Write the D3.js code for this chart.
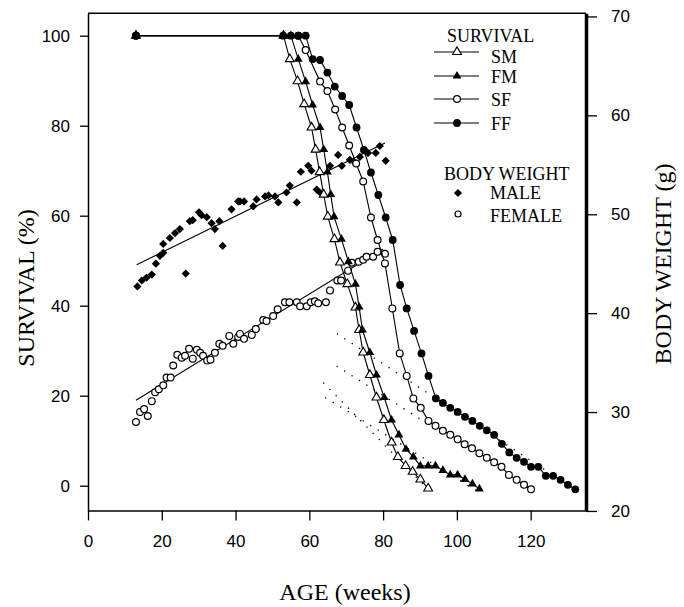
<!DOCTYPE html>
<html><head><meta charset="utf-8">
<script src="https://cdn.jsdelivr.net/npm/d3@7"></script>
<style>body{margin:0;background:#fff}svg{display:block}</style>
</head><body><svg id="c" width="684" height="607"></svg>
<script>
// ---------- data ----------
const xTicks = [0, 20, 40, 60, 80, 100, 120];
const survTicks = [0, 20, 40, 60, 80, 100];
const bwTicks = [20, 30, 40, 50, 60, 70];

const smWeeks = [13, 53, 54.7, 56.8, 58.6, 60.6, 61.7, 62.8, 63.9, 65, 66.8, 68.3, 70.3, 72.5, 73.5, 74.6, 76.4, 78.2, 80.2, 82.3, 84, 86.1, 88, 90.1, 92.2];
const smSurv  = [100, 100, 94.8, 89.9, 84.8, 79.6, 74.7, 69.7, 64.7, 59.8, 54.8, 49.6, 44.8, 39.6, 34.6, 29.6, 24.6, 19.6, 14.6, 9.6, 6.4, 4.4, 3.1, 1.4, -0.6];

const fmWeeks = [13, 55, 57, 59, 60.9, 62.9, 63.9, 64.9, 65.8, 66.7, 68.7, 70.6, 72.5, 73.5, 74.4, 76.4, 78.2, 80.3, 82.3, 84.3, 86.2, 88.2, 90.1, 92.2, 94.2, 96.2, 98.2, 100.2, 102.2, 104.2, 106.1];
const fmSurv  = [100, 100, 94.8, 89.8, 84.6, 79.6, 74.7, 69.7, 64.7, 59.8, 54.8, 49.8, 44.8, 39.7, 34.6, 29.6, 24.6, 19.6, 14.6, 11.3, 8.1, 6.4, 4.4, 4.4, 4.4, 3.4, 2.4, 2.4, 1.4, 0.4, -0.7];

const sfWeeks = [13, 57, 59, 62.9, 64.9, 67, 68.9, 70.8, 72.7, 74.6, 76.7, 78.5, 80.5, 82.5, 84.5, 86.4, 88.2, 90.2, 92.3, 94.2, 96.2, 98.2, 100.2, 102.1, 104.1, 106.1, 108.1, 110.1, 112.1, 114.1, 116.2, 118.2, 120.1];
const sfSurv  = [100, 100, 96.8, 89.8, 87.7, 83.6, 79.6, 75.6, 71.6, 67.6, 59.6, 54.6, 49.4, 39.4, 29.4, 24.4, 19.4, 17.3, 14.4, 13.3, 12.2, 11.3, 10.3, 9.2, 8.3, 7.2, 6.2, 5.2, 4.2, 2.4, 1.3, 0.2, -0.8];

const ffWeeks = [13, 52.9, 55, 57, 59, 60.9, 62.9, 64.9, 66.9, 68.9, 70.8, 72.8, 74.8, 76.7, 78.7, 80.7, 82.6, 84.6, 86.4, 88.4, 90.4, 92.3, 94.3, 96.2, 98.2, 100.2, 102.2, 104.2, 106.2, 108.1, 110.1, 112.2, 114.2, 116.2, 118.2, 120.1, 122.1, 124.1, 126.1, 128.1, 130.1, 132.1];
const ffSurv  = [100, 100, 100, 100, 100, 94.8, 94.6, 91.8, 88.7, 86.6, 84.6, 79.6, 74.6, 69.6, 64.6, 59.6, 54.6, 44.6, 39.4, 34.4, 29.4, 24.4, 19.4, 18.4, 17.3, 16.4, 15.3, 14.4, 13.3, 12.3, 11.3, 9.3, 7.4, 6.2, 5.3, 4.2, 4.2, 2.2, 2.2, 1.3, 0.2, -0.8];

// dotted fitted lines of the survival tails
const smFitWeeks = [63.8, 92.2]; const smFitSurv = [22.9, -0.8];
const fmFitWeeks = [64.3, 106.1]; const fmFitSurv = [19.6, -1.5];
const sfFitWeeks = [67.4, 120.1]; const sfFitSurv = [26.6, -0.8];
const ffFitWeeks = [67.5, 132.1]; const ffFitSurv = [33.8, -0.9];

// body weight (g)
const maleWeeks  = [13.4, 14.6, 15.9, 17.3, 18.4, 19.5, 20.4, 20.4, 22.2, 23.6, 24.9, 26.5, 27.6, 28.4, 30.1, 30.8, 32.2, 33.5, 34.4, 35.6, 36.5, 38.9, 40.7, 41.2, 42.3, 44.8, 45.7, 48, 48.9, 50.7, 51.6, 53.8, 54.7, 56.6, 57.7, 59.7, 60.6, 62, 62.9, 65.6, 67.8, 68.8, 71, 72.4, 73.7, 75.1, 75.9, 78, 79.1, 80.7];
const maleWeight = [42.7, 43.3, 43.6, 43.9, 45.0, 45.8, 46.1, 47.0, 47.6, 48.1, 48.5, 44.0, 49.3, 49.4, 50.2, 49.9, 49.7, 49.1, 48.5, 49.3, 46.8, 50.5, 51.3, 51.3, 51.3, 50.8, 51.5, 51.8, 51.9, 51.8, 51.2, 52.2, 52.9, 51.2, 54.3, 54.9, 54.4, 52.5, 52.2, 54.9, 56.0, 54.9, 55.5, 55.2, 55.8, 56.4, 56.2, 56.2, 56.9, 55.4];
const femaleWeeks  = [13, 14.1, 15.2, 16.2, 17.3, 18.2, 19.2, 20.4, 21.3, 22.4, 23.1, 24.2, 25.4, 26.3, 27.4, 28.4, 29.5, 30.4, 31.2, 32.3, 33.2, 34.4, 35.6, 36.5, 38.3, 39.4, 40.7, 41.2, 42.3, 44.4, 45.5, 47.5, 48.4, 50.2, 51.4, 53.4, 54.6, 56.6, 57.5, 59.3, 60.4, 61.5, 62.4, 64.5, 65.6, 67.6, 68.6, 70.5, 71.5, 73.4, 74.6, 75.5, 77.3, 78.5, 80.5];
const femaleWeight = [29.0, 30.0, 30.3, 29.6, 31.1, 32.0, 32.3, 32.7, 33.5, 33.5, 34.7, 35.8, 35.5, 35.7, 36.4, 35.4, 36.3, 36.0, 35.7, 35.2, 35.3, 36.0, 36.9, 36.7, 37.7, 36.9, 37.6, 37.9, 37.4, 37.8, 38.4, 39.3, 39.2, 39.7, 40.4, 41.1, 41.1, 41.1, 40.7, 40.7, 41.1, 41.2, 41.0, 41.1, 42.3, 43.3, 43.3, 44.3, 45.1, 45.2, 45.4, 45.7, 45.7, 46.2, 46.0];
const maleFitWeeks = [13.2, 80.5]; const maleFitWeight = [44.9, 57.2];
const femaleFitWeeks = [13, 80]; const femaleFitWeight = [31.2, 46.5];

const survNames = ["SM", "FM", "SF", "FF"];
const bwNames = ["MALE", "FEMALE"];

// ---------- drawing ----------
const svg = d3.select("#c");
const SANS = "'Liberation Sans', Arial, sans-serif";
const SERIF = "'Liberation Serif', 'Times New Roman', serif";

const x = d3.scaleLinear().domain([0, 135]).range([88, 586]);
const yL = d3.scaleLinear().domain([-5.5, 105]).range([510.45, 13.2]);
const yR = d3.scaleLinear().domain([20.05, 70.33]).range([510.45, 13.2]);

// frame
const fTop = yL.range()[1], fBot = yL.range()[0], fLeft = x.range()[0], fRight = x.range()[1];
svg.append("line").attr("x1", fLeft).attr("x2", fRight).attr("y1", fTop).attr("y2", fTop).attr("stroke", "#000").attr("stroke-width", 1.5);

// axes
const axB = svg.append("g").attr("transform", `translate(0,${fBot})`)
  .call(d3.axisBottom(x).tickValues(xTicks).tickSize(10).tickPadding(14).tickSizeOuter(0));
const axL = svg.append("g").attr("transform", `translate(${fLeft},0)`)
  .call(d3.axisLeft(yL).tickValues(survTicks).tickSize(8).tickPadding(10).tickSizeOuter(0));
const axR = svg.append("g").attr("transform", `translate(${fRight},0)`)
  .call(d3.axisRight(yR).tickValues(bwTicks).tickSize(11).tickPadding(14).tickSizeOuter(0));
[axB, axL, axR].forEach(a => {
  a.selectAll("text").attr("font-family", SANS).attr("font-size", 17).attr("fill", "#000");
  a.selectAll("line").attr("stroke", "#000").attr("stroke-width", 1.3);
  a.select(".domain").attr("stroke", "#000").attr("stroke-width", 1.5);
});
axR.select(".domain").attr("stroke-width", 3.5);

// axis titles
svg.append("text").attr("x", 345).attr("y", 600).attr("text-anchor", "middle")
  .attr("font-family", SERIF).attr("font-size", 24).text("AGE (weeks)");
svg.append("text").attr("transform", "translate(34,288) rotate(-90)").attr("text-anchor", "middle")
  .attr("font-family", SERIF).attr("font-size", 24).text("SURVIVAL (%)");
svg.append("text").attr("transform", "translate(671,264) rotate(-90)").attr("text-anchor", "middle")
  .attr("font-family", SERIF).attr("font-size", 24).text("BODY WEIGHT (g)");

const zip = (a, b) => a.map((v, i) => [v, b[i]]);

// dotted fits
const lineL = d3.line().x(d => x(d[0])).y(d => yL(d[1]));
const lineR = d3.line().x(d => x(d[0])).y(d => yR(d[1]));
[[smFitWeeks, smFitSurv], [fmFitWeeks, fmFitSurv], [sfFitWeeks, sfFitSurv], [ffFitWeeks, ffFitSurv]].forEach(([w, s]) => {
  svg.append("path").attr("d", lineL(zip(w, s))).attr("fill", "none").attr("stroke", "#000")
    .attr("stroke-width", 1.3).attr("stroke-dasharray", "1.3,7.5");
});

// body weight fits
svg.append("path").attr("d", lineR(zip(maleFitWeeks, maleFitWeight))).attr("fill", "none").attr("stroke", "#000").attr("stroke-width", 1.1);
svg.append("path").attr("d", lineR(zip(femaleFitWeeks, femaleFitWeight))).attr("fill", "none").attr("stroke", "#000").attr("stroke-width", 1.1);

// markers
const diamond = (g, cx, cy) => g.append("rect").attr("x", -2.9).attr("y", -2.9).attr("width", 5.8).attr("height", 5.8)
  .attr("transform", `translate(${cx},${cy}) rotate(45)`).attr("fill", "#000");
const openCircle = (g, cx, cy, r) => g.append("circle").attr("cx", cx).attr("cy", cy).attr("r", r || 3.4)
  .attr("fill", "#fff").attr("stroke", "#000").attr("stroke-width", 1.2);
const fillCircle = (g, cx, cy, r) => g.append("circle").attr("cx", cx).attr("cy", cy).attr("r", r || 3.9).attr("fill", "#000");
const tri = d3.symbol().type(d3.symbolTriangle).size(34);
const openTri = (g, cx, cy) => g.append("path").attr("d", tri()).attr("transform", `translate(${cx},${cy})`)
  .attr("fill", "#fff").attr("stroke", "#000").attr("stroke-width", 1.1);
const fillTri = (g, cx, cy) => g.append("path").attr("d", tri()).attr("transform", `translate(${cx},${cy})`).attr("fill", "#000");

const bw = svg.append("g");
zip(maleWeeks, maleWeight).forEach(d => diamond(bw, x(d[0]), yR(d[1])));
zip(femaleWeeks, femaleWeight).forEach(d => openCircle(bw, x(d[0]), yR(d[1])));

// survival curves
const series = [
  [smWeeks, smSurv, openTri],
  [fmWeeks, fmSurv, fillTri],
  [sfWeeks, sfSurv, openCircle],
  [ffWeeks, ffSurv, fillCircle]
];
series.forEach(([w, s, mk]) => {
  svg.append("path").attr("d", lineL(zip(w, s))).attr("fill", "none").attr("stroke", "#000").attr("stroke-width", 1.1);
});
series.forEach(([w, s, mk]) => {
  const g = svg.append("g");
  zip(w, s).forEach(d => mk(g, x(d[0]), yL(d[1])));
});

// legend (headings nudged up slightly so they only just touch their first entries)
const lg = svg.append("g");
lg.append("text").attr("x", 447).attr("y", 42).attr("font-family", SERIF).attr("font-size", 18).text("SURVIVAL");
const legMk = [openTri, fillTri, openCircle, fillCircle];
const legY = [52, 76, 99, 123];
survNames.forEach((n, i) => {
  lg.append("line").attr("x1", 434).attr("x2", 479).attr("y1", legY[i]).attr("y2", legY[i]).attr("stroke", "#000").attr("stroke-width", 1.1);
  legMk[i](lg, 457, legY[i]);
  lg.append("text").attr("x", 491).attr("y", legY[i] + (i === 0 ? 11 : 7)).attr("font-family", SERIF).attr("font-size", 18).text(n);
});
lg.append("text").attr("x", 444).attr("y", 180).attr("font-family", SERIF).attr("font-size", 18).text("BODY WEIGHT");
diamond(lg, 458, 193);
lg.append("text").attr("x", 490).attr("y", 199).attr("font-family", SERIF).attr("font-size", 18).text(bwNames[0]);
openCircle(lg, 458, 214, 3);
lg.append("text").attr("x", 490).attr("y", 222).attr("font-family", SERIF).attr("font-size", 18).text(bwNames[1]);
</script>
</body></html>
